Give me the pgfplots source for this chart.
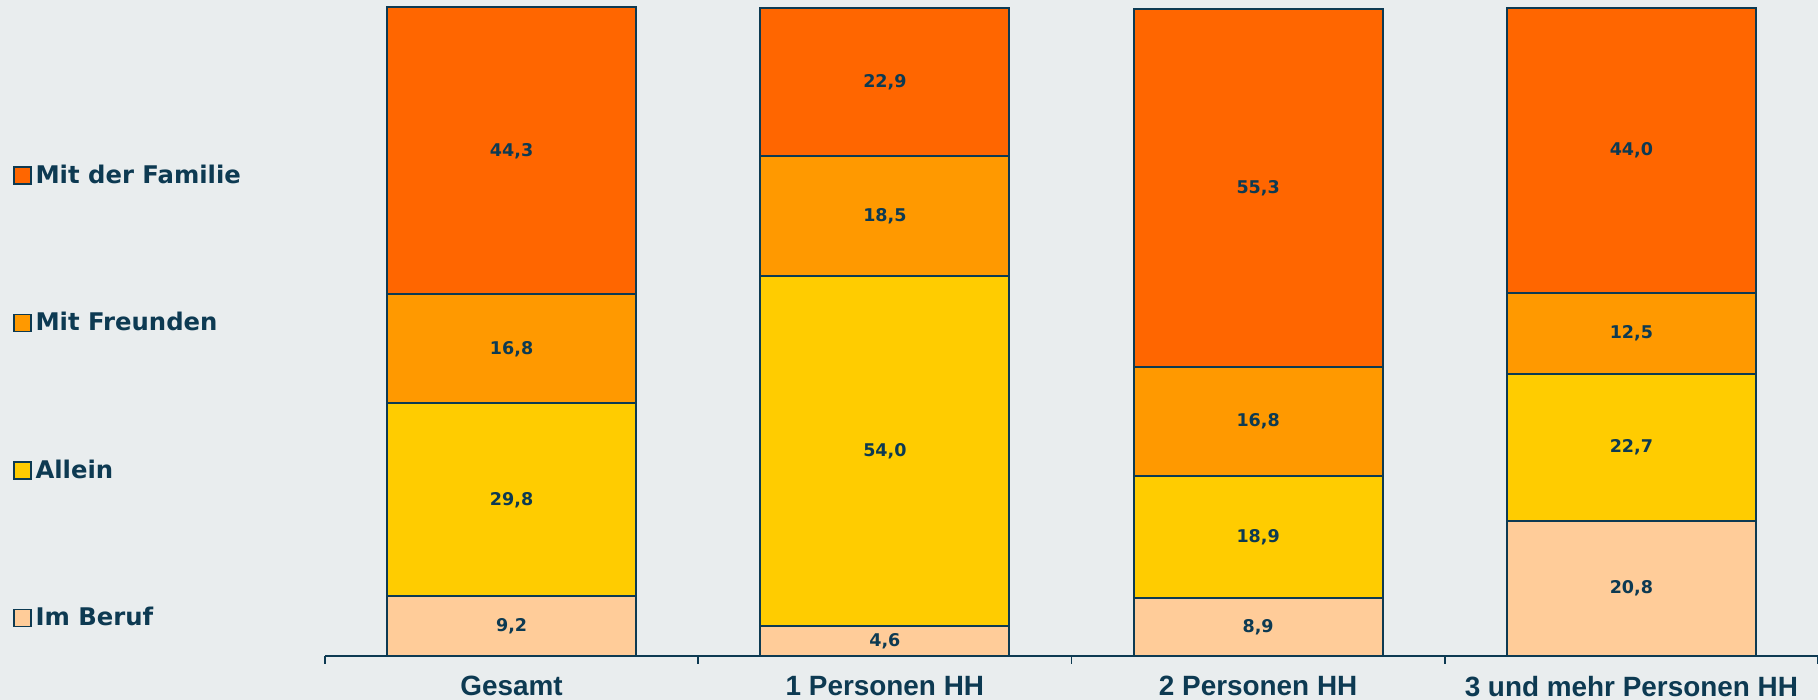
\documentclass[border=0pt]{standalone}
\usepackage{pgfplots}
\pgfplotsset{compat=1.18}
\usepackage{fontspec}
\setmainfont{Liberation Sans}
\newfontfamily\dv{DejaVu Sans}
\definecolor{bg}{HTML}{E9EDEE}
\definecolor{navy}{HTML}{0D3A52}
\definecolor{fam}{HTML}{FF6600}
\definecolor{fre}{HTML}{FF9900}
\definecolor{all}{HTML}{FFCC00}
\definecolor{ber}{HTML}{FFCC99}
\pgfplotsset{sqlegend/.style={legend image code/.code={\draw[##1, draw=navy, line width=0.8bp] (0bp,-4.25bp) rectangle (8.5bp,4.25bp);}}}
\begin{document}
\begin{tikzpicture}
\fill[bg] (0,0) rectangle (909bp,350bp);
\begin{axis}[
  at={(162.5bp,22bp)}, anchor=south west,
  scale only axis, width=746.5bp, height=324bp,
  ybar stacked, bar width=124.5bp,
  xmin=-0.5, xmax=3.5, ymin=0, ymax=100,
  clip=false,
  axis x line*=bottom, axis y line=none,
  x axis line style={-, navy, line width=0.8bp},
  xtick={0,1,2,3},
  xticklabels={Gesamt, 1 Personen HH, 2 Personen HH, 3 und mehr Personen HH},
  major tick length=0pt,
  minor xtick={-0.5,0.5,1.5,2.5,3.5},
  minor tick length=4bp,
  tick align=outside,
  every tick/.style={navy, line width=0.8bp},
  xticklabel style={font=\bfseries\fontsize{14}{16}\selectfont, text=navy, anchor=north, inner sep=0pt, yshift=-10bp},
  nodes near coords,
  point meta=rawy,
  every node near coord/.append style={font=\dv\bfseries\fontsize{8.8}{10}\selectfont, text=navy, anchor=center},
  /pgf/number format/.cd, fixed, fixed zerofill, precision=1, use comma, assume math mode=true,
  /pgfplots/.cd,
  legend style={at={(axis description cs:-0.209,0.400)}, anchor=west, draw=none, fill=none, inner sep=0pt, outer sep=0pt, row sep=59bp, font=\dv\bfseries\fontsize{12.2}{14}\selectfont, text=navy, /tikz/every even column/.append style={column sep=1bp}},
  legend cell align=left,
  reverse legend,
]
\addplot[fill=ber, draw=navy, line width=1bp, sqlegend] coordinates {(0,9.2) (1,4.6) (2,8.9) (3,20.8)};
\addplot[fill=all, draw=navy, line width=1bp, sqlegend] coordinates {(0,29.8) (1,54.0) (2,18.9) (3,22.7)};
\addplot[fill=fre, draw=navy, line width=1bp, sqlegend] coordinates {(0,16.8) (1,18.5) (2,16.8) (3,12.5)};
\addplot[fill=fam, draw=navy, line width=1bp, sqlegend] coordinates {(0,44.3) (1,22.9) (2,55.3) (3,44.0)};
\legend{Im Beruf, Allein, Mit Freunden, Mit der Familie}
\end{axis}
\pgfresetboundingbox
\path[use as bounding box] (0,0) rectangle (909bp,350bp);
\end{tikzpicture}
\end{document}
